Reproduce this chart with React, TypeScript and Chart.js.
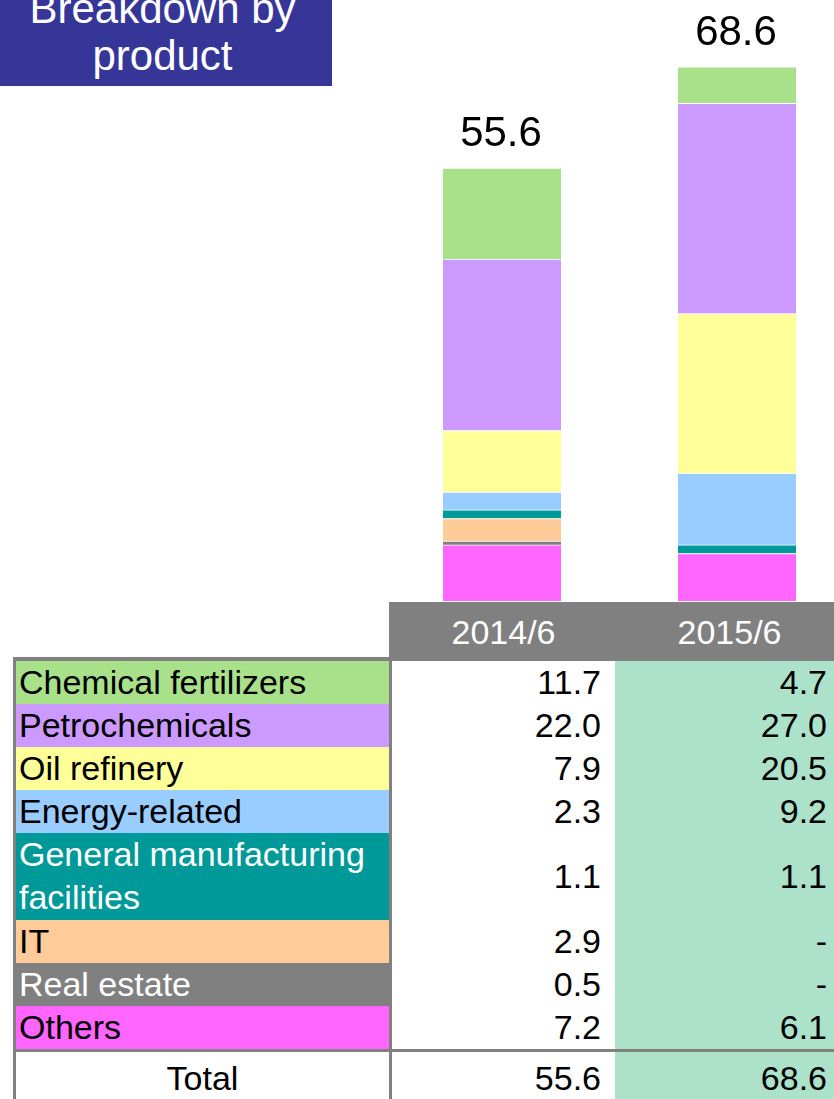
import React, { useEffect, useRef } from 'react';
import { Chart, registerables } from 'chart.js';

Chart.register(...registerables);

const periods = ['2014/6', '2015/6'];
const categories = [
  'Chemical fertilizers',
  'Petrochemicals',
  'Oil refinery',
  'Energy-related',
  'General manufacturing facilities',
  'IT',
  'Real estate',
  'Others',
];
const values2014: (number | null)[] = [11.7, 22.0, 7.9, 2.3, 1.1, 2.9, 0.5, 7.2];
const values2015: (number | null)[] = [4.7, 27.0, 20.5, 9.2, 1.1, null, null, 6.1];
const colors = ['#A8E189', '#CC99FF', '#FFFF99', '#99CCFF', '#009999', '#FFCC99', '#808080', '#FF66FF'];
const textColors = ['#000', '#000', '#000', '#000', '#fff', '#000', '#fff', '#000'];
const titleLines = ['Breakdown by', 'product'];
const totalLabel = 'Total';

const FONT = '"Liberation Sans", Arial, sans-serif';

const sum = (arr: (number | null)[]) => arr.reduce((a: number, b) => a + (b ?? 0), 0);
const totals = [sum(values2014), sum(values2015)];
const fmt = (v: number | null) => (v === null || v === undefined ? '-' : v.toFixed(1));

export default function App() {
  const ref = useRef<HTMLCanvasElement>(null);

  useEffect(() => {
    document.body.style.margin = '0';
    const canvas = ref.current!;
    const datasets = categories
      .map((c, i) => ({
        label: c,
        data: [values2014[i], values2015[i]],
        backgroundColor: colors[i],
        borderColor: '#ffffff',
        borderWidth: { top: 1, bottom: 0, left: 0, right: 0 },
        borderSkipped: false as any,
        barThickness: 118,
      }))
      .reverse();

    const totalsPlugin = {
      id: 'totals',
      afterDatasetsDraw(chart: any) {
        const { ctx } = chart;
        const xs = chart.scales.x;
        const ys = chart.scales.y;
        ctx.save();
        ctx.fillStyle = '#000';
        ctx.font = `42px ${FONT}`;
        ctx.textAlign = 'center';
        ctx.textBaseline = 'alphabetic';
        totals.forEach((t, i) => {
          const x = xs.getPixelForValue(i);
          const y = ys.getPixelForValue(t);
          ctx.fillText(t.toFixed(1), x - 1, y - 22);
        });
        ctx.restore();
      },
    };

    const chart = new Chart(canvas, {
      type: 'bar',
      data: { labels: periods, datasets },
      options: {
        responsive: false,
        animation: false,
        devicePixelRatio: 1,
        layout: { padding: { left: 384.5, right: 25.5, top: 17, bottom: 1 } },
        scales: {
          x: { stacked: true, display: false },
          y: { stacked: true, display: false, min: 0, max: 75 },
        },
        plugins: {
          legend: { display: false },
          tooltip: { enabled: false },
        },
      },
      plugins: [totalsPlugin],
    });
    return () => chart.destroy();
  }, []);

  const cellText: React.CSSProperties = {
    fontFamily: FONT,
    fontSize: 34,
    lineHeight: '43.1px',
  };

  return (
    <div style={{ position: 'absolute', left: 0, top: 0, width: 834, height: 1099, overflow: 'hidden', background: '#fff' }}>
      <div style={{ position: 'absolute', left: 0, top: 0, width: 834, height: 602, overflow: 'hidden' }}>
        <canvas ref={ref} width={880} height={602} style={{ display: 'block', width: 880, height: 602 }} />
      </div>

      {/* Title box */}
      <div style={{ position: 'absolute', left: 0, top: 0, width: 332, height: 86, background: '#363699', overflow: 'hidden' }}>
        <div style={{ position: 'absolute', left: 0, top: -15, width: 325, textAlign: 'center', color: '#fff', fontFamily: FONT, fontSize: 42, lineHeight: '47px' }}>
          {titleLines.map((l, i) => (
            <div key={i}>{l}</div>
          ))}
        </div>
      </div>

      {/* Header */}
      <div style={{ position: 'absolute', left: 389, top: 602, width: 445, height: 59, background: '#808080' }}>
        <div style={{ position: 'absolute', left: 3, top: 0, width: 223, textAlign: 'center', color: '#fff', fontFamily: FONT, fontSize: 34, lineHeight: '61px' }}>{periods[0]}</div>
        <div style={{ position: 'absolute', left: 231, top: 0, width: 219, textAlign: 'center', color: '#fff', fontFamily: FONT, fontSize: 34, lineHeight: '61px' }}>{periods[1]}</div>
      </div>

      {/* Table */}
      <div style={{ position: 'absolute', left: 13, top: 657, width: 821, height: 442, background: '#808080', paddingTop: 4, paddingLeft: 3, boxSizing: 'border-box' }}>
        {categories.map((c, i) => (
          <div key={c} style={{ display: 'flex', alignItems: 'stretch' }}>
            <div style={{ ...cellText, width: 373, boxSizing: 'border-box', paddingLeft: 3, background: colors[i], color: textColors[i] }}>{c}</div>
            <div style={{ width: 3 }} />
            <div style={{ ...cellText, width: 223, boxSizing: 'border-box', paddingRight: 14, background: '#fff', color: '#000', display: 'flex', alignItems: 'center', justifyContent: 'flex-end' }}>{fmt(values2014[i])}</div>
            <div style={{ ...cellText, width: 219, boxSizing: 'border-box', paddingRight: 7, background: '#ACE1CA', color: '#000', display: 'flex', alignItems: 'center', justifyContent: 'flex-end' }}>{fmt(values2015[i])}</div>
          </div>
        ))}
        <div style={{ display: 'flex', alignItems: 'stretch', marginTop: 3, height: 60 }}>
          <div style={{ ...cellText, lineHeight: '52px', width: 373, textAlign: 'center', background: '#fff', color: '#000' }}>{totalLabel}</div>
          <div style={{ width: 3 }} />
          <div style={{ ...cellText, lineHeight: '52px', width: 223, boxSizing: 'border-box', paddingRight: 14, textAlign: 'right', background: '#fff', color: '#000' }}>{totals[0].toFixed(1)}</div>
          <div style={{ ...cellText, lineHeight: '52px', width: 219, boxSizing: 'border-box', paddingRight: 7, textAlign: 'right', background: '#ACE1CA', color: '#000' }}>{totals[1].toFixed(1)}</div>
        </div>
      </div>
    </div>
  );
}
